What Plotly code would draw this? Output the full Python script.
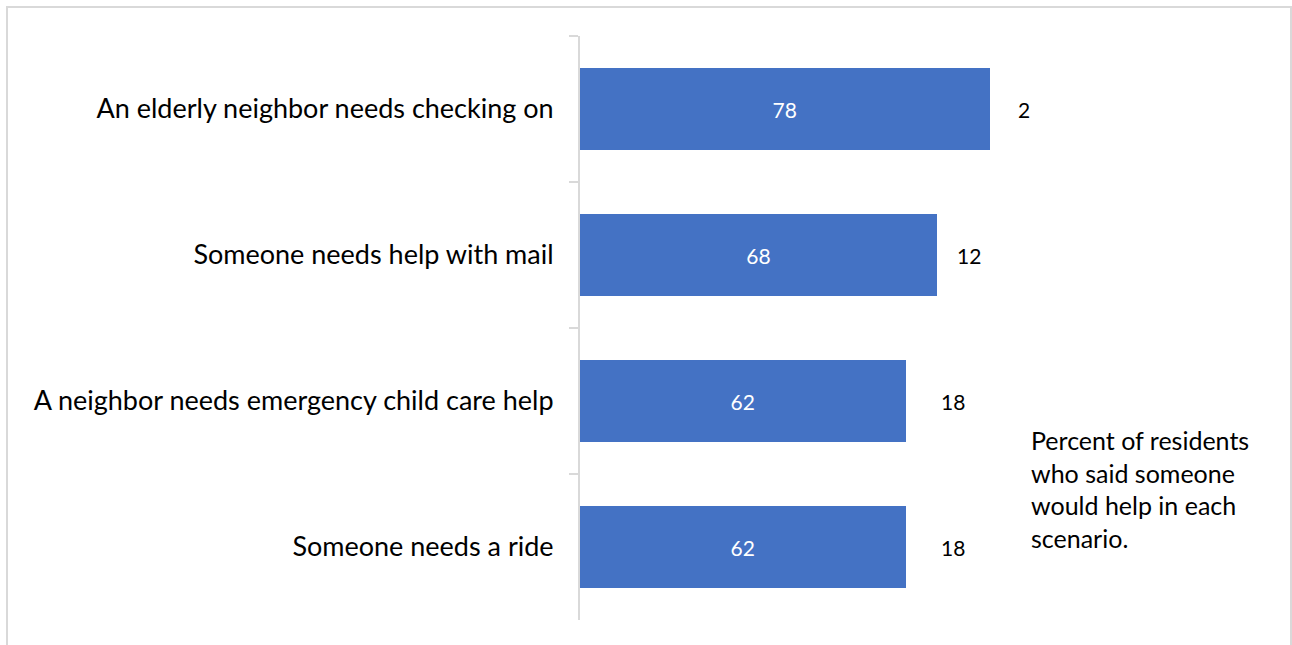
import plotly.graph_objects as go

# Survey scenarios and responses (percent of residents)
scenarios = [
    "An elderly neighbor needs checking on",
    "Someone needs help with mail",
    "A neighbor needs emergency child care help",
    "Someone needs a ride",
]
would_help = [78, 68, 62, 62]
other_resp = [2, 12, 18, 18]

note = "Percent of residents<br>who said someone<br>would help in each<br>scenario."

W, H = 1292, 645
ML, MR, MT, MB = 580, 292, 36, 25
FONT = "Lato, 'Open Sans', sans-serif"
BLUE = "#4472C4"
GRID = "#d9d9d9"

fig = go.Figure()
fig.add_trace(go.Bar(
    y=scenarios, x=would_help, orientation="h",
    marker=dict(color=BLUE, line=dict(width=0)),
    text=[str(v) for v in would_help], textposition="inside",
    insidetextanchor="middle", textangle=0,
    textfont=dict(family=FONT, size=21, color="white"),
    hoverinfo="x+y", name="Would help",
))
fig.add_trace(go.Bar(
    y=scenarios, x=other_resp, orientation="h",
    marker=dict(color="rgba(0,0,0,0)", line=dict(width=0)),
    hoverinfo="x+y", name="Other",
))

# Labels for the unfilled remainder of each bar
for cat, h, o in zip(scenarios, would_help, other_resp):
    fig.add_annotation(
        x=h + o / 2, y=cat, xref="x", yref="y",
        text=str(o), showarrow=False,
        xshift=29 if o < 5 else 0,
        font=dict(family=FONT, size=21, color="black"),
    )

plot_w = W - ML - MR
plot_h = H - MT - MB


def px_x(p):
    return (p - ML) / plot_w


def px_y(p):
    return 1 - (p - MT) / plot_h


fig.add_annotation(
    x=px_x(1029), y=px_y(489), xref="paper", yref="paper",
    xanchor="left", yanchor="middle", align="left",
    text=note, showarrow=False,
    font=dict(family=FONT, size=25, color="black"),
)

# Outer chart border
fig.add_shape(
    type="rect", xref="paper", yref="paper",
    x0=px_x(7), x1=px_x(1291), y0=px_y(660), y1=px_y(7),
    line=dict(color=GRID, width=2), fillcolor="rgba(0,0,0,0)", layer="below",
)

fig.update_layout(
    width=W, height=H,
    margin=dict(l=ML, r=MR, t=MT, b=MB, autoexpand=False),
    barmode="stack", bargap=0.44,
    plot_bgcolor="white", paper_bgcolor="white",
    showlegend=False,
    font=dict(family=FONT),
    uniformtext=dict(minsize=21, mode="show"),
)
fig.update_xaxes(range=[0, 80], visible=False, fixedrange=True)
fig.update_yaxes(
    autorange="reversed", type="category",
    showline=True, linecolor=GRID, linewidth=2,
    ticks="outside", tickson="boundaries", ticklen=9, tickcolor=GRID, tickwidth=2,
    tickfont=dict(family=FONT, size=27, color="black"),
    ticklabelstandoff=19, showgrid=False, zeroline=False,
)

fig.write_html("out.html")
